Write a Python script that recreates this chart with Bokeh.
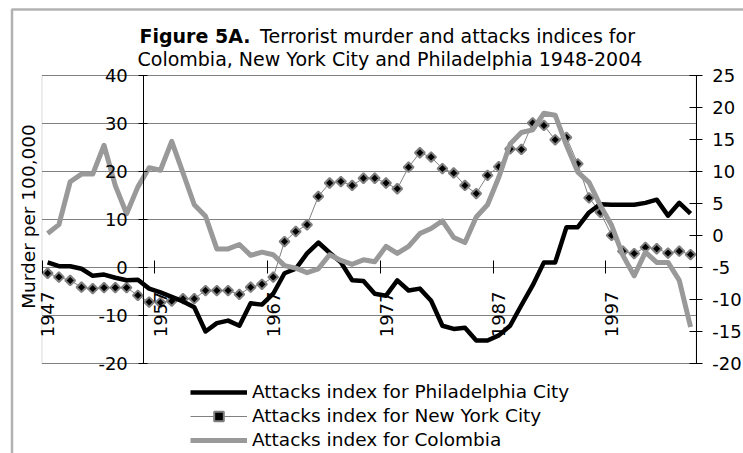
import math
from bokeh.plotting import figure
from bokeh.models import (Range1d, LinearAxis, FixedTicker, Legend, LegendItem,
                          Label, BoxAnnotation)
from bokeh.embed import file_html
from bokeh.resources import INLINE

# ---------------- data ----------------
years = list(range(1947, 2005))

# Attacks index for Philadelphia City (right axis)
philadelphia = [-4.2, -4.8, -4.8, -5.2, -6.3, -6.1, -6.6, -7.0, -6.9, -8.3,
                -8.9, -9.6, -10.3, -11.2, -15.0, -13.7, -13.3, -14.1, -10.6, -10.8,
                -9.1, -5.9, -5.2, -2.8, -1.1, -2.7, -4.2, -7.0, -7.1, -9.1,
                -9.4, -7.0, -8.6, -8.3, -10.2, -14.1, -14.6, -14.4, -16.4, -16.4,
                -15.6, -14.1, -10.9, -7.8, -4.2, -4.2, 1.3, 1.3, 3.6, 4.9,
                4.8, 4.8, 4.8, 5.1, 5.6, 3.1, 5.1, 3.4]

# Attacks index for New York City (left axis)
new_york = [-1.2, -2.0, -2.7, -4.1, -4.4, -4.2, -4.2, -4.2, -5.8, -7.2,
            -7.3, -7.0, -6.5, -6.5, -4.8, -4.8, -4.8, -5.6, -4.1, -3.5,
            -2.0, 5.4, 7.5, 8.9, 14.8, 17.6, 17.9, 17.1, 18.6, 18.6,
            17.6, 16.4, 20.9, 23.9, 23.0, 20.6, 19.7, 17.1, 15.4, 19.2,
            21.0, 24.7, 24.6, 30.1, 29.6, 26.6, 27.1, 21.6, 14.5, 11.5,
            6.7, 3.4, 2.9, 4.2, 3.9, 3.0, 3.4, 2.7]

# Attacks index for Colombia (right axis)
colombia = [0.3, 1.7, 8.4, 9.6, 9.6, 14.1, 7.8, 3.4, 7.6, 10.6,
            10.2, 14.7, 9.8, 4.8, 3.0, -2.1, -2.1, -1.4, -3.1, -2.6,
            -3.0, -4.7, -5.1, -5.8, -5.2, -3.0, -3.9, -4.5, -3.8, -4.1,
            -1.7, -2.8, -1.7, 0.3, 1.1, 2.3, -0.3, -1.1, 2.9, 4.8,
            9.1, 14.3, 16.1, 16.5, 19.1, 18.8, 14.1, 9.9, 8.3, 4.7,
            1.6, -3.1, -6.3, -2.6, -4.2, -4.2, -7.0, -14.3]

left_ticks = [-20, -10, 0, 10, 20, 30, 40]
right_ticks = [-20, -15, -10, -5, 0, 5, 10, 15, 20, 25]
year_labels = [1947, 1957, 1967, 1977, 1987, 1997]

title_bold = "Figure 5A."
title_rest = "Terrorist murder and attacks indices for"
title_line2 = "Colombia, New York City and Philadelphia 1948-2004"
y_title = "Murder per 100,000"
names = ["Attacks index for Philadelphia City",
         "Attacks index for New York City",
         "Attacks index for Colombia"]

# ---------------- layout (canvas pixels) ----------------
FONT = "DejaVu Sans"
CW, CH = 743, 453
PL, PR, PT, PB = 41.5, 695.7, 75.0, 363.0      # plot area
XA, XB = years[0] - 0.5, years[-1] + 0.5        # category extent
LA, LB = left_ticks[0], left_ticks[-1]
RA, RB = right_ticks[0], right_ticks[-1]
kx = (PR - PL) / (XB - XA)
kl = (PB - PT) / (LB - LA)
kr = (PB - PT) / (RB - RA)
TXT_SHIFT = 8   # label baseline correction


def X(px):
    return XA + (px - PL) / kx


def YL(py):
    return LB - (py - PT) / kl


def YR(py):
    return RB - (py - PT) / kr


p = figure(width=CW, height=CH, x_range=Range1d(X(0), X(CW)),
           y_range=Range1d(YL(CH), YL(0)),
           x_axis_location=None, y_axis_location=None, toolbar_location=None,
           output_backend="svg", min_border=0)
p.extra_y_ranges = {"right": Range1d(YR(CH), YR(0))}
p.outline_line_color = None
p.background_fill_color = "white"
p.border_fill_color = "white"
p.xgrid.visible = False
p.ygrid.visible = False

# horizontal gridlines of the left axis
p.segment(x0=[XA] * len(left_ticks), x1=[XB] * len(left_ticks),
          y0=left_ticks, y1=left_ticks, line_color="#808080", line_width=1)

# plot-area border
p.add_layout(BoxAnnotation(left=XA, right=XB, bottom=LA, top=LB, fill_alpha=0,
                           line_color="#808080", line_width=1, level="underlay"))

# ---------------- series ----------------
ny_line = p.line(years, new_york, line_color="#808080", line_width=1)
ny_pts = p.scatter(years, new_york, marker="square", angle=math.pi / 4, size=7,
                   fill_color="black", line_color="#808080", line_width=2)
ph_line = p.line(years, philadelphia, y_range_name="right", line_color="black",
                 line_width=4.5, line_join="round")
co_line = p.line(years, colombia, y_range_name="right", line_color="#999999",
                 line_width=5, line_join="round")

# ---------------- axes ----------------
ax_left = LinearAxis(fixed_location=X(143.3), bounds=(LA, LB),
                     ticker=FixedTicker(ticks=left_ticks),
                     major_label_overrides={t: str(t) for t in left_ticks},
                     major_tick_in=4, major_tick_out=5, minor_tick_line_color=None,
                     major_label_standoff=11, major_label_text_font=FONT,
                     major_label_text_font_size="18px", major_label_text_color="black",
                     axis_line_color="black", major_tick_line_color="black")
p.add_layout(ax_left, "left")

ax_x = LinearAxis(fixed_location=0, bounds=(XA, XB),
                  ticker=FixedTicker(ticks=year_labels,
                                     minor_ticks=[y - 0.5 for y in year_labels]),
                  major_label_overrides={t: str(t) for t in year_labels},
                  major_tick_in=0, major_tick_out=0, minor_tick_in=7, minor_tick_out=6,
                  minor_tick_line_color="black", axis_line_color=None,
                  major_label_orientation=math.pi / 2, major_label_standoff=18,
                  major_label_text_font=FONT, major_label_text_font_size="18px",
                  major_label_text_color="black")
p.add_layout(ax_x, "below")

ax_right = LinearAxis(y_range_name="right", fixed_location=XB, bounds=(RA, RB),
                      ticker=FixedTicker(ticks=right_ticks),
                      major_label_overrides={t: str(t) for t in right_ticks},
                      major_tick_in=7, major_tick_out=6, minor_tick_line_color=None,
                      major_label_standoff=10, major_label_text_font=FONT,
                      major_label_text_font_size="18px", major_label_text_color="black",
                      axis_line_color="black", major_tick_line_color="black")
p.add_layout(ax_right, "right")

# ---------------- legend ----------------
legend = Legend(items=[LegendItem(label=names[0], renderers=[ph_line]),
                       LegendItem(label=names[1], renderers=[ny_line, ny_pts]),
                       LegendItem(label=names[2], renderers=[co_line])],
                location=(190, CH - 451.5),
                orientation="vertical", glyph_width=57, glyph_height=24,
                label_height=24, label_standoff=5, spacing=0, padding=0, margin=0,
                border_line_color=None, background_fill_alpha=0,
                label_text_font=FONT, label_text_font_size="18.5px",
                label_text_color="black")
p.add_layout(legend, "center")

# ---------------- texts ----------------
p.add_layout(Label(x=X(139), y=YL(43 - TXT_SHIFT), text=title_bold, text_align="left",
                   text_baseline="alphabetic", text_font=FONT, text_font_size="19px",
                   text_font_style="bold", text_color="black"))
p.add_layout(Label(x=X(259.6), y=YL(43 - TXT_SHIFT), text=title_rest, text_align="left",
                   text_baseline="alphabetic", text_font=FONT, text_font_size="19px",
                   text_color="black"))
p.add_layout(Label(x=X(137), y=YL(66 - TXT_SHIFT), text=title_line2, text_align="left",
                   text_baseline="alphabetic", text_font=FONT, text_font_size="19px",
                   text_color="black"))
p.add_layout(Label(x=X(36 - TXT_SHIFT), y=YL(216), text=y_title, angle=math.pi / 2,
                   text_align="center", text_baseline="alphabetic", text_font=FONT,
                   text_font_size="18.5px", text_color="black"))

# outer chart border (left and top edges; the rest lies beyond the page)
p.add_layout(BoxAnnotation(left=X(11.5), right=X(CW + 400), top=YL(9),
                           bottom=YL(CH + 400), fill_alpha=0, line_color="black",
                           line_width=2.5))

open("out.html", "w").write(file_html(p, INLINE))
